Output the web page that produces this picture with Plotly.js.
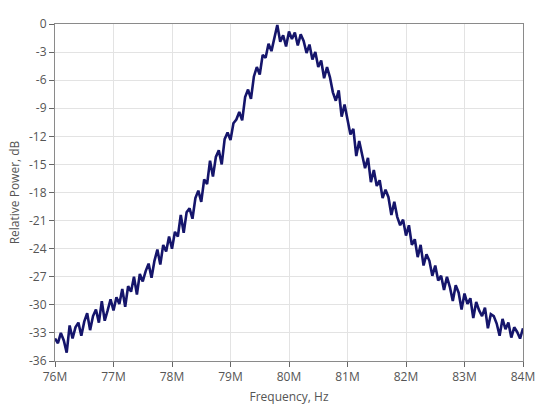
<!DOCTYPE html>
<html>
<head>
<meta charset="utf-8">
<script src="https://cdn.plot.ly/plotly-3.0.1.min.js"></script>
<style>html,body{margin:0;padding:0;background:#fff;}#chart{width:546px;height:416px;}</style>
</head>
<body>
<div id="chart"></div>
<script>
// Frequency in MHz
const freqMHz = [
76.00,76.05,76.10,76.15,76.20,76.25,76.30,76.35,76.40,76.45,
76.50,76.55,76.60,76.65,76.70,76.75,76.80,76.85,76.90,76.95,
77.00,77.05,77.10,77.15,77.20,77.25,77.30,77.35,77.40,77.45,
77.50,77.55,77.60,77.65,77.70,77.75,77.80,77.85,77.90,77.95,
78.00,78.05,78.10,78.15,78.20,78.25,78.30,78.35,78.40,78.45,
78.50,78.55,78.60,78.65,78.70,78.75,78.80,78.85,78.90,78.95,
79.00,79.05,79.10,79.15,79.20,79.25,79.30,79.35,79.40,79.45,
79.50,79.55,79.60,79.65,79.70,79.75,79.80,79.85,79.90,79.95,
80.00,80.05,80.10,80.15,80.20,80.25,80.30,80.35,80.40,80.45,
80.50,80.55,80.60,80.65,80.70,80.75,80.80,80.85,80.90,80.95,
81.00,81.05,81.10,81.15,81.20,81.25,81.30,81.35,81.40,81.45,
81.50,81.55,81.60,81.65,81.70,81.75,81.80,81.85,81.90,81.95,
82.00,82.05,82.10,82.15,82.20,82.25,82.30,82.35,82.40,82.45,
82.50,82.55,82.60,82.65,82.70,82.75,82.80,82.85,82.90,82.95,
83.00,83.05,83.10,83.15,83.20,83.25,83.30,83.35,83.40,83.45,
83.50,83.55,83.60,83.65,83.70,83.75,83.80,83.85,83.90,83.95,
84.00];

// Relative power in dB
const powerDB = [
-33.6,-34.1,-33.0,-33.8,-35.1,-32.2,-33.6,-32.4,-31.9,-33.3,
-31.8,-30.9,-32.7,-31.2,-30.5,-31.9,-29.6,-31.7,-30.6,-29.4,
-30.6,-29.2,-29.9,-28.3,-30.2,-28.0,-28.6,-27.0,-28.9,-26.7,
-27.5,-26.4,-25.6,-27.1,-25.3,-24.1,-25.7,-23.6,-24.3,-22.7,
-24.0,-22.2,-22.7,-20.4,-22.3,-20.1,-19.7,-20.8,-18.6,-17.8,
-19.0,-16.6,-17.1,-14.6,-16.3,-14.2,-13.5,-15.0,-12.3,-11.6,
-12.4,-10.6,-10.2,-9.4,-10.3,-7.8,-7.0,-8.0,-5.6,-4.6,
-5.4,-3.3,-3.6,-2.1,-2.9,-1.4,-0.1,-1.9,-1.2,-2.4,
-0.8,-1.6,-0.9,-2.3,-1.1,-1.8,-3.1,-2.2,-3.8,-3.0,
-4.6,-3.9,-5.8,-4.6,-5.7,-7.3,-8.2,-7.1,-9.9,-8.6,
-10.4,-11.8,-11.2,-14.1,-12.5,-13.9,-15.4,-14.3,-16.9,-15.6,
-17.3,-16.7,-18.6,-17.7,-18.5,-20.4,-19.0,-20.6,-21.5,-20.9,
-22.6,-21.5,-23.6,-23.0,-24.9,-23.6,-25.8,-24.6,-25.3,-26.9,
-25.8,-27.4,-26.9,-28.4,-27.0,-28.1,-29.6,-27.9,-28.7,-30.5,
-28.8,-29.9,-29.3,-31.4,-29.7,-30.6,-31.2,-30.3,-32.5,-31.0,
-31.2,-32.0,-33.3,-31.5,-32.6,-31.9,-33.5,-32.4,-32.9,-33.6,
-32.5];

const xTickVals = [76, 77, 78, 79, 80, 81, 82, 83, 84];
const xTickText = ["76M", "77M", "78M", "79M", "80M", "81M", "82M", "83M", "84M"];
const yTickVals = [0, -3, -6, -9, -12, -15, -18, -21, -24, -27, -30, -33, -36];
const yTickText = ["0", "-3", "-6", "-9", "-12", "-15", "-18", "-21", "-24", "-27", "-30", "-33", "-36"];

const trace = {
  x: freqMHz,
  y: powerDB,
  type: 'scatter',
  mode: 'lines',
  line: {color: '#15156b', width: 2.6},
  hoverinfo: 'skip'
};

const fontFam = '"Open Sans", "DejaVu Sans", sans-serif';

const layout = {
  width: 546,
  height: 416,
  margin: {l: 55, r: 23, t: 24, b: 55},
  paper_bgcolor: '#ffffff',
  plot_bgcolor: '#ffffff',
  showlegend: false,
  font: {family: fontFam, size: 12, color: '#555555'},
  xaxis: {
    range: [76, 84],
    tickvals: xTickVals,
    ticktext: xTickText,
    ticks: 'outside',
    ticklen: 5,
    tickcolor: '#666666',
    showline: true,
    linecolor: '#8a8a8a',
    linewidth: 1,
    mirror: true,
    showgrid: true,
    gridcolor: '#e3e3e3',
    zeroline: false,
    tickfont: {family: fontFam, size: 12, color: '#555555'},
    title: {text: 'Frequency, Hz', font: {family: fontFam, size: 12, color: '#555555'}, standoff: 8}
  },
  yaxis: {
    range: [-36, 0],
    tickvals: yTickVals,
    ticktext: yTickText,
    ticks: 'outside',
    ticklen: 5,
    tickcolor: '#666666',
    showline: true,
    linecolor: '#8a8a8a',
    linewidth: 1,
    mirror: true,
    showgrid: true,
    gridcolor: '#e3e3e3',
    zeroline: false,
    tickfont: {family: fontFam, size: 12, color: '#555555'},
    title: {text: 'Relative Power, dB', font: {family: fontFam, size: 12, color: '#555555'}, standoff: 6}
  }
};

Plotly.newPlot('chart', [trace], layout, {displayModeBar: false, staticPlot: true});
</script>
</body>
</html>
